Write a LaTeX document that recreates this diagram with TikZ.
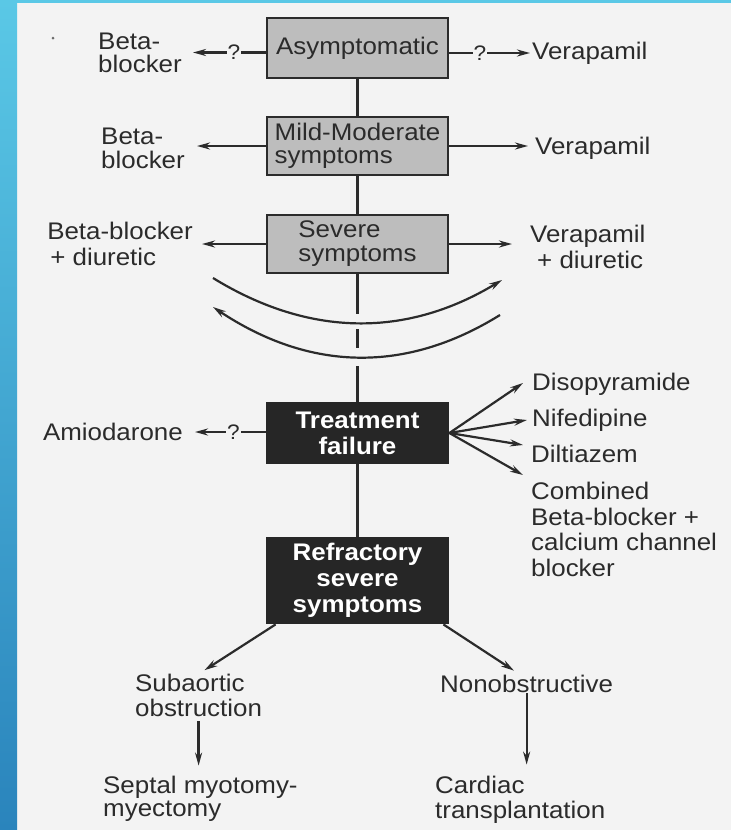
\documentclass[tikz,border=0pt]{standalone}
\usepackage{fontspec}
\setmainfont{Liberation Sans}[FakeStretch=1.08]
\usetikzlibrary{arrows.meta}
\definecolor{paper}{HTML}{F3F3F3}
\definecolor{ink}{HTML}{2B2B2B}
\definecolor{lbox}{HTML}{BDBDBD}
\definecolor{dbox}{HTML}{262626}
\definecolor{bluetop}{HTML}{5AC8E6}
\definecolor{bluebot}{HTML}{2A84BC}
\begin{document}
\begin{tikzpicture}[x=1pt,y=-1pt,
  every node/.style={text=ink, font=\fontsize{24}{25}\selectfont},
  lbl/.style={inner sep=0pt, align=left},
  lightbox/.style={draw=ink, line width=2.8pt, fill=lbox, minimum width=181pt, inner sep=3pt},
  darkbox/.style={draw=dbox, line width=2.8pt, fill=dbox, minimum width=181pt, text=white,
     font=\fontsize{24}{26}\selectfont\bfseries, align=center},
  conn/.style={draw=ink, line width=2.2pt},
  arr/.style={conn, -{Stealth[length=13pt,width=7pt]}},
  qm/.style={fill=paper, inner sep=1pt, font=\fontsize{21}{21}\selectfont}
]
\useasboundingbox (0,0) rectangle (731,830);
\fill[paper] (0,0) rectangle (731,830);
\shade[top color=bluetop, bottom color=bluebot] (0,0) rectangle (17,830);
\fill[bluetop] (17,0) rectangle (731,3);
\fill[ink!70] (53,38) circle (1.5pt);

% boxes
\node[lightbox, minimum height=60pt] (asym) at (357.5,48) {Asymptomatic};
\node[lightbox, minimum height=58pt, align=left, font=\fontsize{24}{23}\selectfont] (mild) at (357.5,146) {Mild-Moderate\\symptoms};
\node[lightbox, minimum height=58pt, align=left, font=\fontsize{24}{24}\selectfont] (sev) at (357.5,244) {Severe\\symptoms};
\node[darkbox, minimum height=60pt] (treat) at (357.5,433) {Treatment\\failure};
\node[darkbox, minimum height=85pt] (refr) at (357.5,580.5) {Refractory\\severe\\symptoms};

% labels
\node[lbl, anchor=east, font=\fontsize{24}{23}\selectfont] (b1) at (182,52.5) {Beta-\\blocker};
\node[lbl, anchor=west] (v1) at (532,53) {Verapamil};
\node[lbl, anchor=east, font=\fontsize{24}{24}\selectfont] (b2) at (185,148) {Beta-\\blocker};
\node[lbl, anchor=west] (v2) at (535,148) {Verapamil};
\node[lbl, anchor=east, font=\fontsize{24}{26}\selectfont] (b3) at (193,243.5) {Beta-blocker\\\hspace*{3pt}+ diuretic};
\node[lbl, anchor=west, font=\fontsize{24}{26}\selectfont] (v3) at (530,246.5) {Verapamil\\\hspace*{7pt}+ diuretic};
\node[lbl, anchor=east] (amio) at (183,432) {Amiodarone};
\node[lbl, anchor=west] (diso) at (532,384) {Disopyramide};
\node[lbl, anchor=west] (nife) at (532,420) {Nifedipine};
\node[lbl, anchor=west] (dilt) at (531,454) {Diltiazem};
\node[lbl, anchor=west, font=\fontsize{24}{25.7}\selectfont] (comb) at (531,529.5) {Combined\\Beta-blocker +\\calcium channel\\blocker};
\node[lbl, anchor=west] (sub) at (135,695.5) {Subaortic\\obstruction};
\node[lbl, anchor=west] (non) at (440,684) {Nonobstructive};
\node[lbl, anchor=west, font=\fontsize{24}{23}\selectfont] (sept) at (103,798.5) {Septal myotomy-\\myectomy};
\node[lbl, anchor=west] (card) at (435,799.5) {Cardiac\\transplantation};

% spine
\draw[conn] (asym) -- (mild);
\draw[conn] (mild) -- (sev);
\draw[conn, dash pattern=on 40pt off 15pt on 19pt off 18pt on 80pt] (sev.south) -- (treat.north);
\draw[conn] (treat) -- (refr);

% side arrows
\draw[arr, shorten >=11pt] (asym.west |- b1.east) -- node[qm, pos=0.38]{?} (b1.east);
\draw[arr, shorten >=2pt] (asym.east |- v1.west) -- node[qm, pos=0.37]{?} (v1.west);
\draw[arr, shorten >=12pt] (mild.west) -- (b2.east |- mild.west);
\draw[arr, shorten >=7pt] (mild.east) -- (v2.west |- mild.east);
\draw[arr, shorten >=9pt] (sev.west) -- (b3.east |- sev.west);
\draw[arr, shorten >=18pt] (sev.east) -- (v3.west |- sev.east);
\draw[arr, shorten >=12pt] (treat.west |- amio.east) -- node[qm, pos=0.39]{?} (amio.east);

% arcs
\coordinate (ua1) at (213,278);
\coordinate (ua2) at (502,280);
\draw[arr] (ua1) .. controls (309,337) and (406,338) .. (ua2);
\coordinate (la1) at (500,315);
\coordinate (la2) at (213,307);
\draw[arr] (la1) .. controls (405,374) and (309,371) .. (la2);

% fan
\draw[arr] (treat.east) -- ([shift={(-9pt,1pt)}]diso.west);
\draw[arr] (treat.east) -- ([xshift=-5pt]nife.west);
\draw[arr] (treat.east) -- ([shift={(-8pt,9pt)}]dilt.west);
\draw[arr] (treat.east) -- ([shift={(-8pt,54.5pt)}]comb.west);

% bottom
\draw[arr, shorten >=7pt] ([xshift=10pt]refr.south west) -- (sub.north);
\draw[arr, shorten <=4pt, shorten >=10pt] (sub.south) -- (sub.south |- sept.north);
\draw[arr, shorten >=8pt] ([xshift=-6pt]refr.south east) -- ([xshift=-6pt]non.north);
\draw[arr, shorten >=11pt] (non.south) -- (non.south |- card.north);
\end{tikzpicture}
\end{document}
